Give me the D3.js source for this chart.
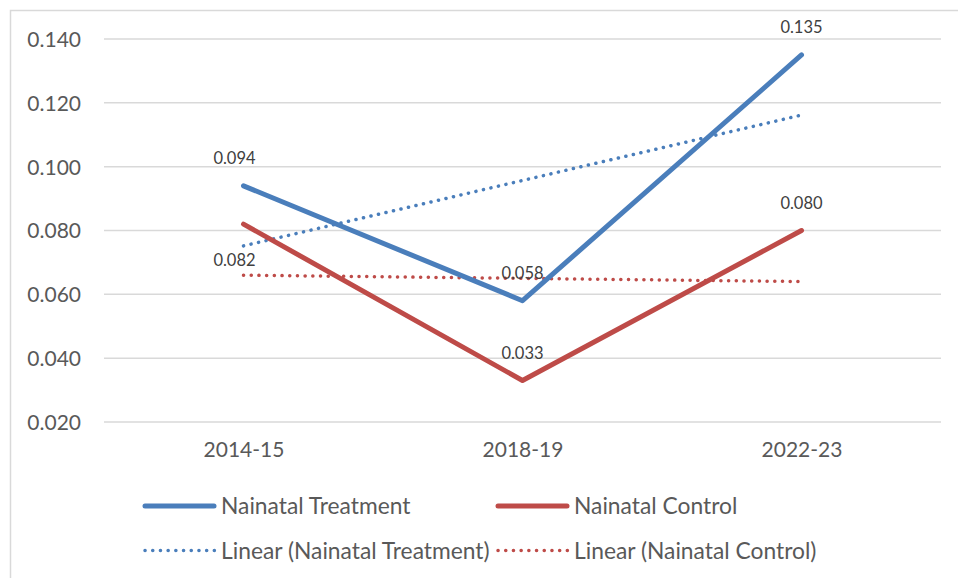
<!DOCTYPE html>
<html>
<head>
<meta charset="utf-8">
<script src="https://cdn.jsdelivr.net/npm/d3@7"></script>
<style>
  body { margin: 0; background: #fff; }
  svg { display: block; }
  text { font-family: Lato, "Open Sans", sans-serif; }
</style>
</head>
<body>
<script>
// chart values
var categories = ["2014-15", "2018-19", "2022-23"];
var treatment = [0.094, 0.058, 0.135];
var control = [0.082, 0.033, 0.080];
var yTicks = [0.020, 0.040, 0.060, 0.080, 0.100, 0.120, 0.140];
var seriesNames = ["Nainatal Treatment", "Nainatal Control"];

var width = 958, height = 578;
var blue = "#4A7EBB", red = "#BE4B48";

var svg = d3.select("body").append("svg")
    .attr("width", width)
    .attr("height", height);

// chart frame (right and bottom edges fall outside the picture)
svg.append("path")
    .attr("d", "M10.5," + height + "V10.5H" + width)
    .attr("fill", "none")
    .attr("stroke", "#d9d9d9")
    .attr("stroke-width", 1.5);

var x = d3.scalePoint()
    .domain(categories)
    .range([104, 941])
    .padding(0.5);

var y = d3.scaleLinear()
    .domain([0.02, 0.14])
    .range([422, 39]);

// gridlines
svg.append("g").selectAll("line")
    .data(yTicks)
    .enter()
    .append("line")
    .attr("x1", 104)
    .attr("x2", 941)
    .attr("y1", function(d) { return y(d); })
    .attr("y2", function(d) { return y(d); })
    .attr("stroke", "#d9d9d9")
    .attr("stroke-width", 1.5);

// y axis labels
var yAxis = d3.axisLeft(y)
    .tickValues(yTicks)
    .tickFormat(d3.format(".3f"))
    .tickSize(0)
    .tickPadding(23);
var gy = svg.append("g").attr("transform", "translate(104,0)").call(yAxis);
gy.select(".domain").remove();
gy.selectAll("text")
    .attr("fill", "#595959")
    .style("font-size", "21px")
    .attr("dy", "0.35em");

// x axis labels
var xAxis = d3.axisBottom(x).tickSize(0).tickPadding(20);
var gx = svg.append("g").attr("transform", "translate(0,422)").call(xAxis);
gx.select(".domain").remove();
gx.selectAll("text")
    .attr("fill", "#595959")
    .style("font-size", "21px");

// least squares trend over category index 1..n
function trend(values) {
    var n = values.length;
    var xs = values.map(function(d, i) { return i + 1; });
    var mx = d3.mean(xs), my = d3.mean(values);
    var num = 0, den = 0;
    for (var i = 0; i < n; i++) {
        num += (xs[i] - mx) * (values[i] - my);
        den += (xs[i] - mx) * (xs[i] - mx);
    }
    var slope = num / den;
    return xs.map(function(v) { return my + slope * (v - mx); });
}

var line = d3.line()
    .x(function(d, i) { return x(categories[i]); })
    .y(function(d) { return y(d); });

// trendlines
[[treatment, blue], [control, red]].forEach(function(s) {
    svg.append("path")
        .attr("d", line(trend(s[0])))
        .attr("fill", "none")
        .attr("stroke", s[1])
        .attr("stroke-width", 3.5)
        .attr("stroke-linecap", "round")
        .attr("stroke-dasharray", "0.1 7.6");
});

// series lines
[[treatment, blue], [control, red]].forEach(function(s) {
    svg.append("path")
        .attr("d", line(s[0]))
        .attr("fill", "none")
        .attr("stroke", s[1])
        .attr("stroke-width", 5)
        .attr("stroke-linejoin", "round")
        .attr("stroke-linecap", "round");
});

// data labels
function addLabels(values, below) {
    svg.append("g").selectAll("text")
        .data(values)
        .enter()
        .append("text")
        .attr("x", function(d, i) { return x(categories[i]) + (i === 0 ? -9 : 0); })
        .attr("y", function(d, i) { return y(d) + (below && i === 0 ? 42 : -22); })
        .attr("text-anchor", "middle")
        .attr("fill", "#404040")
        .style("font-size", "16.5px")
        .text(function(d) { return d3.format(".3f")(d); });
}
addLabels(treatment, false);
addLabels(control, true);

// legend
var legendItems = [
    { name: seriesNames[0], color: blue, dotted: false, col: 0, row: 0 },
    { name: seriesNames[1], color: red, dotted: false, col: 1, row: 0 },
    { name: "Linear (" + seriesNames[0] + ")", color: blue, dotted: true, col: 0, row: 1 },
    { name: "Linear (" + seriesNames[1] + ")", color: red, dotted: true, col: 1, row: 1 }
];
var legend = svg.append("g").selectAll("g")
    .data(legendItems)
    .enter()
    .append("g")
    .attr("transform", function(d) {
        return "translate(" + (d.col === 0 ? 145 : 498) + "," + (d.row === 0 ? 506 : 550.5) + ")";
    });
legend.append("line")
    .attr("x1", 0)
    .attr("x2", function(d) { return d.dotted ? 70 : 69; })
    .attr("stroke", function(d) { return d.color; })
    .attr("stroke-width", function(d) { return d.dotted ? 3.5 : 5; })
    .attr("stroke-linecap", "round")
    .attr("stroke-dasharray", function(d) { return d.dotted ? "0.1 7.6" : null; });
legend.append("text")
    .attr("x", 76)
    .attr("dy", "0.36em")
    .attr("fill", "#595959")
    .style("font-size", "22.8px")
    .text(function(d) { return d.name; });
</script>
</body>
</html>
